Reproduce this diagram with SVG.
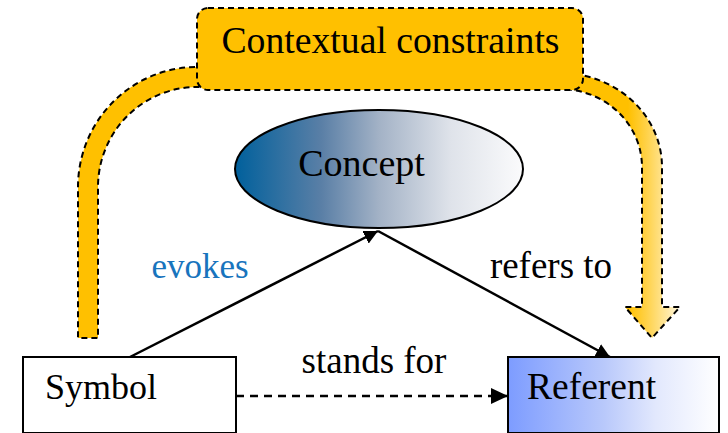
<svg xmlns="http://www.w3.org/2000/svg" width="728" height="433" viewBox="0 0 728 433">
  <style>
    text { font-size: 37px; fill: #000; }
    .band { stroke: #000; stroke-width: 2; stroke-dasharray: 6 4; }
    .edge { stroke: #000; stroke-width: 2.5; fill: none; }
    .box { stroke: #000; stroke-width: 2; }
  </style>
  <defs>
    <linearGradient id="conceptFill" gradientUnits="userSpaceOnUse" x1="235" y1="0" x2="523" y2="0">
      <stop offset="0" stop-color="#00609c"/>
      <stop offset="0.3" stop-color="#5a7fa6"/>
      <stop offset="0.5" stop-color="#a3b2c6"/>
      <stop offset="0.75" stop-color="#dfe3ea"/>
      <stop offset="1" stop-color="#fbfbfc"/>
    </linearGradient>
    <linearGradient id="referentFill" gradientUnits="userSpaceOnUse" x1="508" y1="0" x2="719" y2="0">
      <stop offset="0" stop-color="#7d9cff"/>
      <stop offset="0.45" stop-color="#b8c8fb"/>
      <stop offset="0.7" stop-color="#e2e8fd"/>
      <stop offset="1" stop-color="#ffffff"/>
    </linearGradient>
    <linearGradient id="fadeBand" gradientUnits="userSpaceOnUse" x1="628" y1="0" x2="682" y2="0">
      <stop offset="0" stop-color="#ffc000"/>
      <stop offset="0.35" stop-color="#ffd24a"/>
      <stop offset="1" stop-color="#fff8e4"/>
    </linearGradient>
    <marker id="head" viewBox="0 0 10 10" refX="10" refY="5" markerWidth="5.6" markerHeight="5.6" markerUnits="strokeWidth" orient="auto">
      <path d="M0,0 L10,5 L0,10 Z" fill="#000"/>
    </marker>
    <marker id="headDash" viewBox="0 0 10 10" refX="10" refY="5" markerWidth="7" markerHeight="6.5" markerUnits="strokeWidth" orient="auto" preserveAspectRatio="none">
      <path d="M0,0 L10,5 L0,10 Z" fill="#000"/>
    </marker>
  </defs>

  <!-- context bands feeding out of the constraints box -->
  <g id="context-bands">
    <path class="band" fill="#ffc000" d="M205,67 L197,67 A119,120 0 0 0 78,187 L78,338 L98,338 L98,187 A99,100 0 0 1 197,87 L205,87 Z"/>
    <path class="band" fill="url(#fadeBand)" d="M555,73 L560,73 A102,94 0 0 1 662,167 L662,307 L680,307 L652,338 L625,307 L642,307 L642,167 A82,78 0 0 0 560,89 L555,89 Z"/>
  </g>

  <g id="constraints">
    <rect class="band" x="197" y="8" width="386" height="82" rx="11" fill="#ffc000"/>
    <text x="390.5" y="53" text-anchor="middle" font-family="Times New Roman, Liberation Serif, serif" style="font-size:37.7px">Contextual constraints</text>
  </g>

  <g id="concept">
    <ellipse cx="379" cy="169" rx="144" ry="59" fill="url(#conceptFill)" stroke="#000" stroke-width="2"/>
    <text x="361.5" y="176" text-anchor="middle" font-family="Times New Roman, Liberation Serif, serif" style="font-size:38px">Concept</text>
  </g>

  <g id="symbol">
    <rect class="box" x="23" y="357" width="213" height="76" fill="#fff"/>
    <text x="45" y="399" font-family="Times New Roman, Liberation Serif, serif" style="font-size:36px">Symbol</text>
  </g>

  <g id="referent">
    <rect class="box" x="508" y="357" width="211" height="76" fill="url(#referentFill)"/>
    <text x="527" y="399" font-family="Times New Roman, Liberation Serif, serif" style="font-size:37.5px">Referent</text>
  </g>

  <!-- connectors -->
  <g id="connectors">
    <line class="edge" x1="130" y1="357" x2="378" y2="231" marker-end="url(#head)"/>
    <line class="edge" x1="378" y1="231" x2="610" y2="357" marker-end="url(#head)"/>
    <line class="edge" x1="236" y1="396" x2="508" y2="396" stroke-dasharray="8 6" marker-end="url(#headDash)"/>
    <text x="200" y="278" text-anchor="middle" font-family="Times New Roman, Liberation Serif, serif" style="fill:#1874bd;font-size:35px">evokes</text>
    <text x="551" y="278" text-anchor="middle" font-family="Times New Roman, Liberation Serif, serif">refers to</text>
    <text x="374" y="373" text-anchor="middle" font-family="Times New Roman, Liberation Serif, serif">stands for</text>
  </g>
</svg>
